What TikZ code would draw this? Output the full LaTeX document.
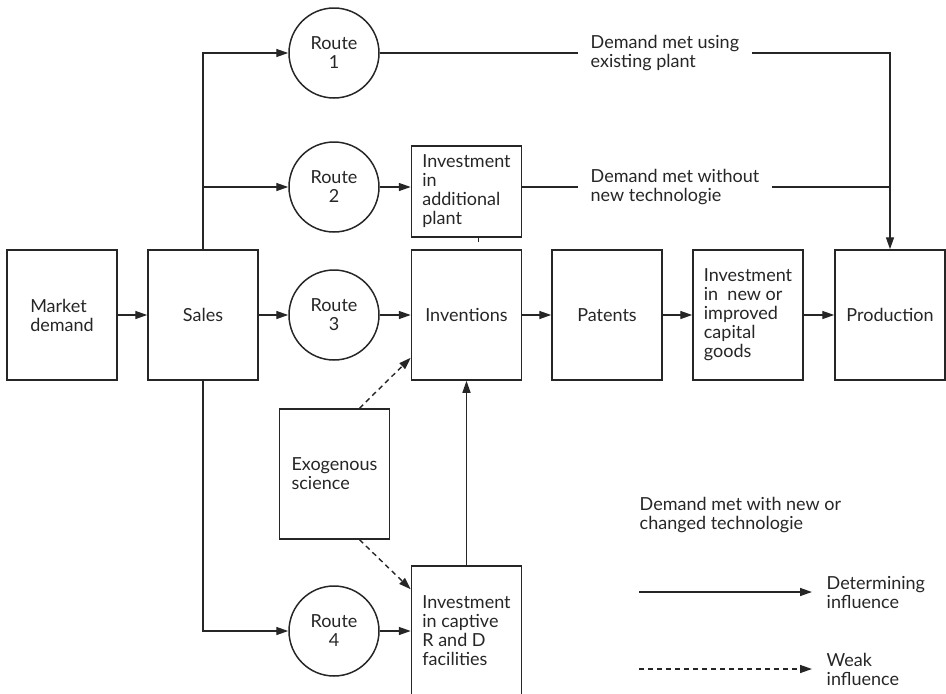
\documentclass[tikz,border=0pt]{standalone}
\usepackage{fontspec}
\setmainfont{Lato}
\usetikzlibrary{arrows.meta}
\begin{document}
\begin{tikzpicture}[x=1pt,y=-1pt,line width=1.4pt,color=black!85,
  every node/.style={font=\fontsize{18}{19}\selectfont},
  blok/.style={draw,line width=1.5pt,minimum width=110pt,minimum height=130pt,align=left,inner sep=0pt},
  route/.style={draw,circle,line width=1.5pt,minimum size=90pt,align=center,inner sep=0pt},
  lbl/.style={align=left,inner xsep=12pt,inner ysep=0pt},
  arr/.style={-{Triangle[length=12pt,width=8pt]}},
  weak/.style={arr,dash pattern=on 5pt off 4pt}]
\useasboundingbox (0,0) rectangle (946,694);
% main chain
\node[blok] (mkt) at (62,315) {Market\\demand};
\node[blok] (sales) at (203,315) {Sales};
\node[blok] (inv) at (466.5,315) {Inventions};
\node[blok] (pat) at (607,315) {Patents};
\node[blok] (capgoods) at (748,315) {Investment\\in\ \ new or\\improved\\capital\\goods};
\node[blok] (prod) at (890,315) {Production};
% routes
\node[route] (r1) at (334,53) {Route\\1};
\node[route] (r2) at (334,187) {Route\\2};
\node[route] (r3) at (334,315) {Route\\3};
\node[route] (r4) at (334,631) {Route\\4};
% side boxes
\node[blok,minimum height=91pt] (plant) at (466.5,191.5) {Investment\\in\\additional\\plant};
\node[blok] (exo) at (334.5,474) {Exogenous\\science};
\node[blok] (rnd) at (466.5,631) {Investment\\in captive\\R and D\\facilities};
% line labels
\node[lbl,anchor=west] (met1) at (578,53) {Demand met using\\existing plant};
\node[lbl,anchor=west] (met2) at (578,187) {Demand met without\\new technologie};
% legend
\node[anchor=west,align=left,inner sep=0pt] (newtech) at (639,515) {Demand met with new or\\changed technologie};
\node[anchor=west,align=left,inner sep=0pt] (det) at (826,592) {Determining\\influence};
\node[anchor=west,align=left,inner sep=0pt] (weakl) at (826,669) {Weak\\influence};
\coordinate (d1) at (639,592);
\coordinate (w1) at (639,669);
% connectors
\draw[arr] (mkt) -- (sales);
\draw[arr] (sales) -- (r3);
\draw[arr] (r3) -- (inv);
\draw[arr] (inv) -- (pat);
\draw[arr] (pat) -- (capgoods);
\draw[arr] (capgoods) -- (prod);
\draw[arr] (sales.north) |- (r1);
\draw[arr] (sales.north |- r2) -- (r2);
\draw[arr] (r2) -- (r2 -| plant.west);
\draw[arr] (sales.south) |- (r4);
\draw[arr] (r4) -- (rnd);
\draw[arr] (rnd) -- (inv);
\draw (r1.east) -- (met1.west);
\draw[arr] (met1.east) -| (prod.north);
\draw (plant.east |- r2) -- (met2.west);
\draw (met2.east) -- (met2.east -| prod.north);
\draw ([xshift=12pt]plant.south) -- ++(0,4);
\draw[weak] ([xshift=25pt]exo.north) -- ([yshift=23pt]inv.south west);
\draw[weak] ([xshift=25pt]exo.south) -- ([yshift=-24pt]rnd.north west);
\draw[arr] (d1) -- ([xshift=-14pt]det.west);
\draw[weak] (w1) -- ([xshift=-14pt]weakl.west);
\end{tikzpicture}
\end{document}
